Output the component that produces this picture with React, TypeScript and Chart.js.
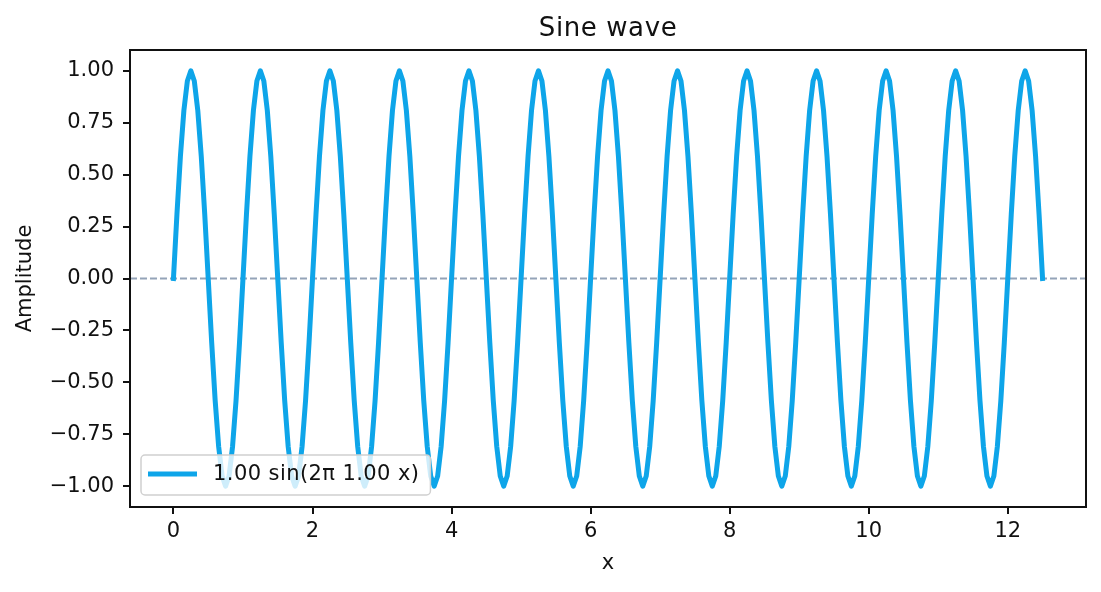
// App.tsx
import { useEffect, useRef } from 'react';
import { Chart, registerables, ChartConfiguration, Plugin } from 'chart.js';

Chart.register(...registerables);

// sample positions: 0 .. 12.5 in steps of 0.05
const sampleStep = 0.05;

// amplitude, one row per period (20 samples), last row is the half period
const amplitude: number[] = [
    0, 0.309, 0.588, 0.809, 0.951, 1, 0.951, 0.809, 0.588, 0.309, 0, -0.309, -0.588, -0.809, -0.951, -1, -0.951, -0.809, -0.588, -0.309,
    0, 0.309, 0.588, 0.809, 0.951, 1, 0.951, 0.809, 0.588, 0.309, 0, -0.309, -0.588, -0.809, -0.951, -1, -0.951, -0.809, -0.588, -0.309,
    0, 0.309, 0.588, 0.809, 0.951, 1, 0.951, 0.809, 0.588, 0.309, 0, -0.309, -0.588, -0.809, -0.951, -1, -0.951, -0.809, -0.588, -0.309,
    0, 0.309, 0.588, 0.809, 0.951, 1, 0.951, 0.809, 0.588, 0.309, 0, -0.309, -0.588, -0.809, -0.951, -1, -0.951, -0.809, -0.588, -0.309,
    0, 0.309, 0.588, 0.809, 0.951, 1, 0.951, 0.809, 0.588, 0.309, 0, -0.309, -0.588, -0.809, -0.951, -1, -0.951, -0.809, -0.588, -0.309,
    0, 0.309, 0.588, 0.809, 0.951, 1, 0.951, 0.809, 0.588, 0.309, 0, -0.309, -0.588, -0.809, -0.951, -1, -0.951, -0.809, -0.588, -0.309,
    0, 0.309, 0.588, 0.809, 0.951, 1, 0.951, 0.809, 0.588, 0.309, 0, -0.309, -0.588, -0.809, -0.951, -1, -0.951, -0.809, -0.588, -0.309,
    0, 0.309, 0.588, 0.809, 0.951, 1, 0.951, 0.809, 0.588, 0.309, 0, -0.309, -0.588, -0.809, -0.951, -1, -0.951, -0.809, -0.588, -0.309,
    0, 0.309, 0.588, 0.809, 0.951, 1, 0.951, 0.809, 0.588, 0.309, 0, -0.309, -0.588, -0.809, -0.951, -1, -0.951, -0.809, -0.588, -0.309,
    0, 0.309, 0.588, 0.809, 0.951, 1, 0.951, 0.809, 0.588, 0.309, 0, -0.309, -0.588, -0.809, -0.951, -1, -0.951, -0.809, -0.588, -0.309,
    0, 0.309, 0.588, 0.809, 0.951, 1, 0.951, 0.809, 0.588, 0.309, 0, -0.309, -0.588, -0.809, -0.951, -1, -0.951, -0.809, -0.588, -0.309,
    0, 0.309, 0.588, 0.809, 0.951, 1, 0.951, 0.809, 0.588, 0.309, 0, -0.309, -0.588, -0.809, -0.951, -1, -0.951, -0.809, -0.588, -0.309,
    0, 0.309, 0.588, 0.809, 0.951, 1, 0.951, 0.809, 0.588, 0.309, 0,
];

const xTicks = [0, 2, 4, 6, 8, 10, 12];
const yTicks = [-1, -0.75, -0.5, -0.25, 0, 0.25, 0.5, 0.75, 1];
const xRange = [-0.625, 13.125];
const yRange = [-1.1, 1.1];
const zeroLine = [0, 0];

const chartTitle = 'Sine wave';
const seriesLabel = '1.00 sin(2π 1.00 x)';

const FONT = "'DejaVu Sans', sans-serif";
const LINE_COLOR = '#0ea5e9';
const INK = '#111';

// title, frame and legend in matplotlib style
const decorations: Plugin<'line'> = {
    id: 'decorations',
    afterDraw(chart) {
        const { ctx, chartArea: ca } = chart;
        ctx.save();

        // title
        ctx.fillStyle = INK;
        ctx.font = `26px ${FONT}`;
        (ctx as any).letterSpacing = '0.6px';
        ctx.textAlign = 'center';
        ctx.textBaseline = 'alphabetic';
        ctx.fillText(chartTitle, (ca.left + ca.right) / 2, 36);

        // axes frame
        ctx.strokeStyle = INK;
        ctx.lineWidth = 2;
        ctx.strokeRect(ca.left, ca.top, ca.right - ca.left, ca.bottom - ca.top);

        // legend
        ctx.font = `21px ${FONT}`;
        (ctx as any).letterSpacing = '0.42px';
        const textW = ctx.measureText(seriesLabel).width;
        const bx = ca.left + 11;
        const bh = 40;
        const by = ca.bottom - 12 - bh;
        const bw = 72 + textW + 11;
        ctx.beginPath();
        ctx.roundRect(bx, by, bw, bh, 4);
        ctx.fillStyle = 'rgba(255,255,255,0.8)';
        ctx.fill();
        ctx.strokeStyle = '#d0d0d0';
        ctx.lineWidth = 1.5;
        ctx.stroke();

        const ly = by + bh / 2 - 1;
        ctx.beginPath();
        ctx.moveTo(bx + 7, ly);
        ctx.lineTo(bx + 56, ly);
        ctx.strokeStyle = LINE_COLOR;
        ctx.lineWidth = 5;
        ctx.stroke();

        ctx.fillStyle = INK;
        ctx.textAlign = 'left';
        ctx.textBaseline = 'middle';
        ctx.fillText(seriesLabel, bx + 72, ly + 1);

        ctx.restore();
    },
};

const formatY = (v: number) => (v < 0 ? '\u2212' : '') + Math.abs(v).toFixed(2);

const SineChart: React.FC = () => {
    const canvasRef = useRef<HTMLCanvasElement | null>(null);
    const chartInstance = useRef<Chart<'line'> | null>(null);

    useEffect(() => {
        document.body.style.margin = '0';
        if (!canvasRef.current) return;
        if (chartInstance.current) chartInstance.current.destroy();

        const config: ChartConfiguration<'line'> = {
            type: 'line',
            data: {
                datasets: [
                    {
                        label: 'zero',
                        data: xRange.map((x, i) => ({ x, y: zeroLine[i] })),
                        borderColor: '#94a3b8',
                        borderWidth: 2,
                        borderDash: [7, 3],
                        pointRadius: 0,
                        order: 2,
                    },
                    {
                        label: seriesLabel,
                        data: amplitude.map((y, i) => ({ x: i * sampleStep, y })),
                        borderColor: LINE_COLOR,
                        borderWidth: 5,
                        borderCapStyle: 'square',
                        borderJoinStyle: 'round',
                        pointRadius: 0,
                        tension: 0,
                        order: 1,
                    },
                ],
            },
            options: {
                responsive: false,
                animation: false,
                devicePixelRatio: 1,
                layout: { padding: { top: 50, right: 15, bottom: 0, left: 0 } },
                plugins: {
                    legend: { display: false },
                    title: { display: false },
                    tooltip: { enabled: false },
                },
                scales: {
                    x: {
                        type: 'linear',
                        min: xRange[0],
                        max: xRange[1],
                        afterFit: (scale) => {
                            scale.height = 85;
                        },
                        afterBuildTicks: (scale) => {
                            scale.ticks = xTicks.map((value) => ({ value }));
                        },
                        grid: {
                            drawOnChartArea: false,
                            tickLength: 7,
                            lineWidth: 2,
                            color: INK,
                        },
                        border: { display: false },
                        ticks: {
                            padding: 5,
                            color: INK,
                            font: { family: FONT, size: 21 },
                            maxRotation: 0,
                            callback: (v) => String(v),
                        },
                        title: {
                            display: true,
                            text: 'x',
                            color: INK,
                            font: { family: FONT, size: 21 },
                            padding: { top: 0, bottom: 16 },
                        },
                    },
                    y: {
                        type: 'linear',
                        min: yRange[0],
                        max: yRange[1],
                        afterFit: (scale) => {
                            scale.width = 130;
                        },
                        afterBuildTicks: (scale) => {
                            scale.ticks = yTicks.map((value) => ({ value }));
                        },
                        grid: {
                            drawOnChartArea: false,
                            tickLength: 7,
                            lineWidth: 2,
                            color: INK,
                        },
                        border: { display: false },
                        ticks: {
                            padding: 9,
                            color: INK,
                            font: { family: FONT, size: 21 },
                            callback: (v) => formatY(Number(v)),
                        },
                        title: {
                            display: true,
                            text: 'Amplitude',
                            color: INK,
                            font: { family: FONT, size: 21 },
                            padding: { top: 13, bottom: 0 },
                        },
                    },
                },
            },
            plugins: [decorations],
        };

        chartInstance.current = new Chart(canvasRef.current, config);

        return () => {
            if (chartInstance.current) {
                chartInstance.current.destroy();
                chartInstance.current = null;
            }
        };
    }, []);

    return <canvas ref={canvasRef} width={1101} height={592} style={{ display: 'block' }} />;
};

export default function App() {
    return <SineChart />;
}
